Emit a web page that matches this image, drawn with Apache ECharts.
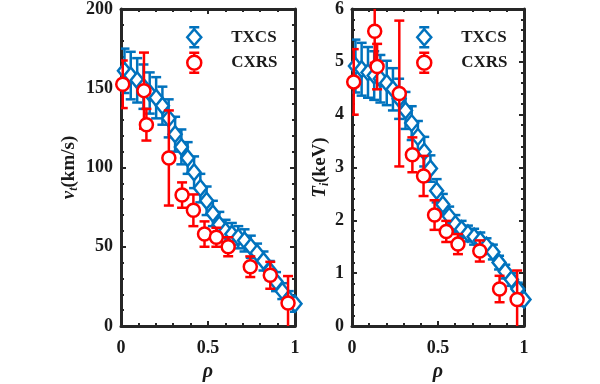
<!DOCTYPE html>
<html><head><meta charset="utf-8">
<script src="https://cdn.jsdelivr.net/npm/echarts@6/dist/echarts.min.js"></script>
<style>html,body{margin:0;padding:0;background:#fff}#c{width:600px;height:384px}</style>
</head><body><div id="c"></div>
<script>
// ---- data ----
const rhoTXCS = [0.02,0.056,0.093,0.129,0.165,0.202,0.238,0.274,0.311,0.347,0.383,0.42,0.456,0.492,0.528,0.565,0.601,0.637,0.674,0.71,0.746,0.782,0.819,0.855,0.891,0.927,0.964,1.0];
const vtTXCS = [161,158,155,151,147,144,139,131,121,113,106,97,87,79,71,64,60,58,56,54,50,46,41,35,28,22,17,14];
const vtTXCSErr = [14,15,14,14,13,13,12,12,11,11,10,10,9,9,8,8,7,7,7,7,7,6,6,6,6,5,5,5];
const tiTXCS = [4.92,4.86,4.80,4.74,4.68,4.60,4.48,4.30,4.08,3.84,3.58,3.30,2.98,2.56,2.30,2.08,1.93,1.83,1.75,1.69,1.62,1.52,1.40,1.20,1.03,0.88,0.70,0.50];
const tiTXCSErr = [0.5,0.5,0.48,0.46,0.45,0.42,0.4,0.38,0.35,0.32,0.3,0.28,0.25,0.22,0.2,0.18,0.17,0.16,0.15,0.15,0.15,0.14,0.14,0.13,0.13,0.12,0.12,0.12];

const rhoCXRS = [0.01,0.132,0.146,0.275,0.351,0.416,0.48,0.548,0.616,0.743,0.858,0.96];
const vtCXRS = [152.5,148.5,127,106,82.6,73,58,56,50,37.4,32,14.5];
const vtCXRSErr = [15,24,10,30,8,10,8,6,6,6.5,8.5,17];
const tiCXRS = [4.62,5.58,4.91,4.40,3.24,2.84,2.10,1.79,1.55,1.42,0.70,0.50];
const tiCXRSErr = [0.62,0.6,0.43,1.38,0.33,0.38,0.28,0.2,0.19,0.2,0.25,0.55];

const rhoTicks = [0, 0.5, 1];
const vtTicks = [0, 50, 100, 150, 200];
const tiTicks = [0, 1, 2, 3, 4, 5, 6];

// ---- style ----
const BLUE = '#0072BD', RED = '#FF0000', AX = '#262626', TXT = '#1a1a1a';
const FONT = 'Liberation Serif';

function pairs(xs, ys, es) { return xs.map((x, i) => es ? [x, ys[i], es[i]] : [x, ys[i]]); }

function errRenderer(color) {
  return function (params, api) {
    const x = api.value(0), y = api.value(1), e = api.value(2);
    const p = api.coord([x, y + e]), q = api.coord([x, y - e]);
    const hw = 5, st = { stroke: color, lineWidth: 2.5 };
    return { type: 'group', children: [
      { type: 'line', shape: { x1: p[0], y1: p[1], x2: q[0], y2: q[1] }, style: st },
      { type: 'line', shape: { x1: p[0] - hw, y1: p[1], x2: p[0] + hw, y2: p[1] }, style: st },
      { type: 'line', shape: { x1: q[0] - hw, y1: q[1], x2: q[0] + hw, y2: q[1] }, style: st }
    ]};
  };
}

const grids = [
  { left: 121, top: 9, width: 174, height: 317, containLabel: false, outerBoundsMode: 'none' },
  { left: 352, top: 9, width: 172, height: 317, containLabel: false, outerBoundsMode: 'none' }
];

function xAxes(gi) {
  const base = {
    gridIndex: gi, type: 'value', min: rhoTicks[0], max: rhoTicks[rhoTicks.length - 1],
    interval: rhoTicks[1] - rhoTicks[0],
    axisLine: { show: true, onZero: false, lineStyle: { color: AX, width: 3 } },
    axisTick: { show: true, inside: true, length: 5, lineStyle: { color: AX, width: 2 } },
    minorTick: { show: true, splitNumber: 5, length: 3, lineStyle: { color: AX, width: 2 } },
    splitLine: { show: false }
  };
  return [
    Object.assign({}, base, {
      position: 'bottom',
      axisLabel: { color: TXT, fontFamily: FONT, fontWeight: 'bold', fontSize: 18, margin: 13 },
      name: 'ρ', nameLocation: 'middle', nameGap: 36,
      nameTextStyle: { color: TXT, fontFamily: FONT, fontStyle: 'italic', fontWeight: 'bold', fontSize: 20 }
    }),
    Object.assign({}, base, { position: 'top', axisLabel: { show: false } })
  ];
}

function yAxes(gi, ticks, nameRich, nameGap) {
  const base = {
    gridIndex: gi, type: 'value', min: ticks[0], max: ticks[ticks.length - 1],
    interval: ticks[1] - ticks[0],
    axisLine: { show: true, onZero: false, lineStyle: { color: AX, width: 3 } },
    axisTick: { show: true, inside: true, length: 5, lineStyle: { color: AX, width: 2 } },
    minorTick: { show: true, splitNumber: 5, length: 3, lineStyle: { color: AX, width: 2 } },
    splitLine: { show: false }
  };
  return [
    Object.assign({}, base, {
      position: 'left',
      axisLabel: { color: TXT, fontFamily: FONT, fontWeight: 'bold', fontSize: 18, margin: 8 },
      name: nameRich, nameLocation: 'middle', nameGap: nameGap, nameRotate: 90,
      nameTextStyle: {
        color: TXT, fontFamily: FONT, fontWeight: 'bold', fontSize: 19,
        rich: {
          i: { fontFamily: FONT, fontStyle: 'italic', fontWeight: 'bold', fontSize: 19, color: TXT },
          s: { fontFamily: FONT, fontStyle: 'italic', fontWeight: 'bold', fontSize: 12, color: TXT, padding: [10, 0, 0, 0] },
          n: { fontFamily: FONT, fontWeight: 'bold', fontSize: 19, color: TXT }
        }
      }
    }),
    Object.assign({}, base, { position: 'right', axisLabel: { show: false } })
  ];
}

const iconTX = 'path://M2,0 L12,0 M7,0 L7,2 M7,2 L14,10 L7,18 L0,10 Z M7,18 L7,20 M2,20 L12,20';
const iconCX = 'path://M2,0 L12,0 M7,0 L7,3 M0,10 A7,7 0 1,1 14,10 A7,7 0 1,1 0,10 Z M7,17 L7,20 M2,20 L12,20';

function legend(left) {
  return {
    left: left, top: 26, orient: 'vertical', padding: 0, itemGap: 3,
    itemWidth: 14, itemHeight: 20,
    formatter: n => '{a|' + n + '}',
    textStyle: { color: TXT, fontFamily: FONT, fontWeight: 'bold', fontSize: 17,
      rich: { a: { fontFamily: FONT, fontWeight: 'bold', fontSize: 17, color: TXT, padding: [0, 0, 0, 25] } } },
    data: [
      { name: 'TXCS', icon: iconTX, itemStyle: { color: '#fff', borderColor: BLUE, borderWidth: 2.5 } },
      { name: 'CXRS', icon: iconCX, itemStyle: { color: '#fff', borderColor: RED, borderWidth: 2.5 } }
    ]
  };
}

function seriesFor(gi, txY, txE, cxY, cxE) {
  const xi = gi * 2, yi = gi * 2;
  return [
    { type: 'custom', name: 'TXCS err', xAxisIndex: xi, yAxisIndex: yi, clip: true,
      renderItem: errRenderer(BLUE), data: pairs(rhoTXCS, txY, txE), z: 2, silent: true },
    { type: 'scatter', name: 'TXCS', xAxisIndex: xi, yAxisIndex: yi, symbol: 'diamond', symbolSize: [13, 16],
      itemStyle: { color: '#fff', borderColor: BLUE, borderWidth: 2.5, opacity: 1 },
      data: pairs(rhoTXCS, txY), z: 3 },
    { type: 'custom', name: 'CXRS err', xAxisIndex: xi, yAxisIndex: yi, clip: true,
      renderItem: errRenderer(RED), data: pairs(rhoCXRS, cxY, cxE), z: 4, silent: true },
    { type: 'scatter', name: 'CXRS', xAxisIndex: xi, yAxisIndex: yi, symbol: 'circle', symbolSize: 13,
      itemStyle: { color: '#fff', borderColor: RED, borderWidth: 2.5, opacity: 1 },
      data: pairs(rhoCXRS, cxY), z: 5 }
  ];
}

const chart = echarts.init(document.getElementById('c'), null, { renderer: 'canvas' });
chart.setOption({
  animation: false,
  backgroundColor: '#fff',
  grid: grids,
  legend: [legend(186), legend(416)],
  xAxis: [...xAxes(0), ...xAxes(1)],
  yAxis: [
    ...yAxes(0, vtTicks, '{i|v}{s|t}{n|(km/s)}', 41),
    ...yAxes(1, tiTicks, '{i|T}{s|i}{n|(keV)}', 13)
  ],
  series: [
    ...seriesFor(0, vtTXCS, vtTXCSErr, vtCXRS, vtCXRSErr),
    ...seriesFor(1, tiTXCS, tiTXCSErr, tiCXRS, tiCXRSErr)
  ]
});
</script>
</body></html>
